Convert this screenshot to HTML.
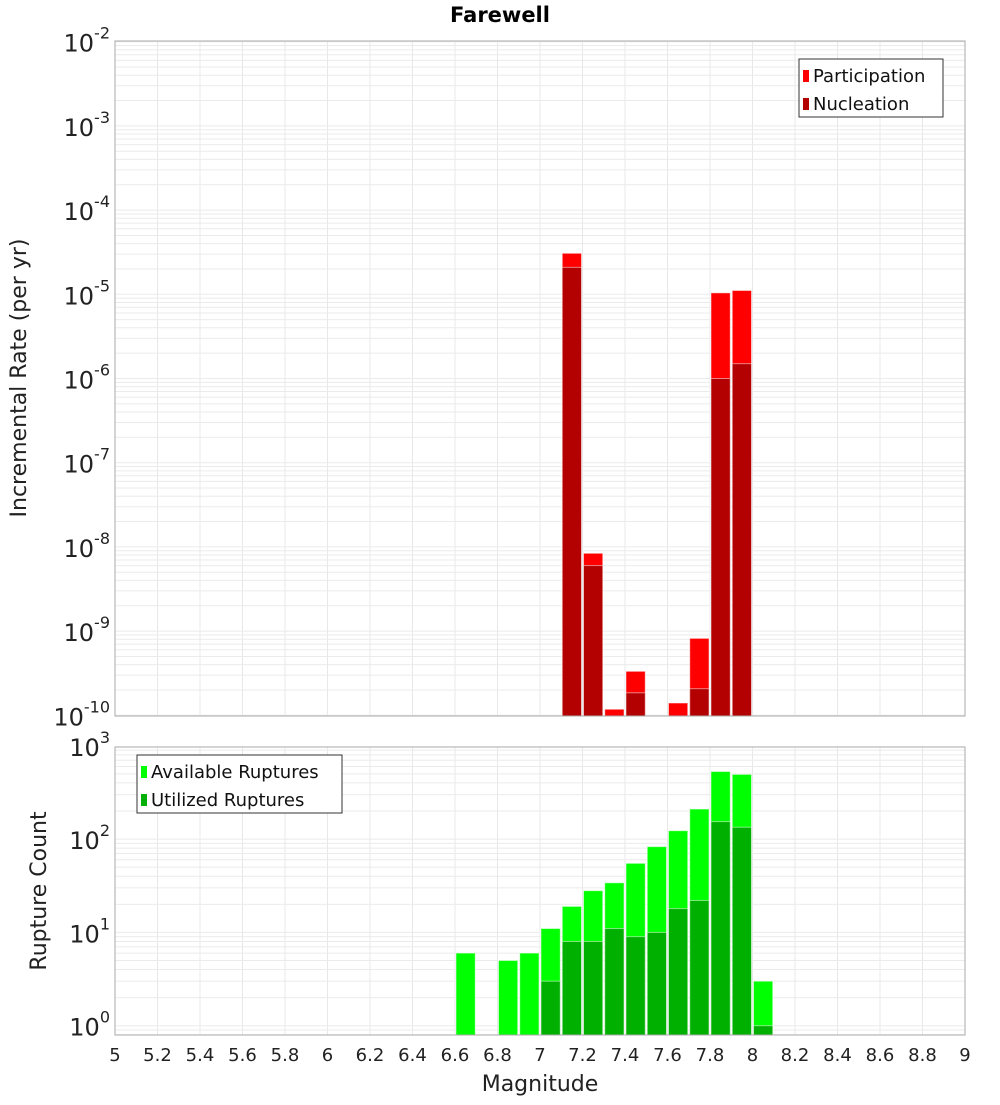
<!DOCTYPE html>
<html><head><meta charset="utf-8"><style>
body{margin:0;background:#fff;font-family:"Liberation Sans","DejaVu Sans",sans-serif}
svg text{font-family:"DejaVu Sans","Liberation Sans",sans-serif}
</style></head><body>
<svg id="c" width="1000" height="1100" xmlns="http://www.w3.org/2000/svg"></svg>
<script>
const bins=[5.05,5.15,5.25,5.35,5.45,5.55,5.65,5.75,5.85,5.95,6.05,6.15,6.25,6.35,6.45,6.55,6.65,6.75,6.85,6.95,7.05,7.15,7.25,7.35,7.45,7.55,7.65,7.75,7.85,7.95,8.05];
const participation=[null,null,null,null,null,null,null,null,null,null,null,null,null,null,null,null,null,null,null,null,null,3.07e-5,8.4e-9,1.18e-10,3.33e-10,null,1.4e-10,8.2e-10,1.04e-5,1.11e-5,null];
const nucleation=[null,null,null,null,null,null,null,null,null,null,null,null,null,null,null,null,null,null,null,null,null,2.09e-5,6.0e-9,null,1.85e-10,null,null,2.07e-10,1.0e-6,1.5e-6,null];
const available=[0,0,0,0,0,0,0,0,0,0,0,0,0,0,0,0,6,0,5,6,11,19,28,34,55,83,123,210,530,494,3];
const utilized=[0,0,0,0,0,0,0,0,0,0,0,0,0,0,0,0,0,0,0,0,3,8,8,11,9,10,18,22,154,134,1];
const xTicks=[5,5.2,5.4,5.6,5.8,6,6.2,6.4,6.6,6.8,7,7.2,7.4,7.6,7.8,8,8.2,8.4,8.6,8.8,9];
const topExp=[-10,-9,-8,-7,-6,-5,-4,-3,-2];
const botExp=[0,1,2,3];

const NS="http://www.w3.org/2000/svg",svg=document.getElementById('c');
function el(t,a,p){const e=document.createElementNS(NS,t);for(const k in a)e.setAttribute(k,a[k]);(p||svg).appendChild(e);return e;}
const X0=115,X1=965;
const x=v=>X0+(v-5)*(X1-X0)/4;
const T={top:41,bot:716,y:l=>715.3-(l+10)*84.2};
const B={top:747,bot:1035,y:l=>1025.7-l*93.3};

function panel(P,exps,name){
  const g=el('g',{});
  
  el('rect',{x:X0,y:P.top,width:X1-X0,height:P.bot-P.top,fill:'#fff'},g);
  xTicks.forEach(t=>el('line',{x1:x(t),x2:x(t),y1:P.top,y2:P.bot,stroke:'#e8e8e8'},g));
  for(let e=exps[0]-1;e<=exps[exps.length-1];e++)for(let m=1;m<10;m++){
    const yy=P.y(e+Math.log10(m));if(yy<P.top||yy>P.bot)continue;
    el('line',{x1:X0,x2:X1,y1:yy,y2:yy,stroke:'#ebebeb'},g);}
  return g;
}
function frame(P,name){const r=el('rect',{x:X0,y:P.top,width:X1-X0,height:P.bot-P.top,fill:'none',stroke:'#aaa'});}
function bars(P,vals,color,name){
  const g=el('g',{});
  vals.forEach((v,i)=>{if(!v)return;const yy=Math.max(P.top,P.y(Math.log10(v)));
    const r=el('rect',{x:x(bins[i]-0.05)+1,y:yy,width:x(5.1)-x(5)-2,height:P.bot-yy,fill:color,stroke:'#fff','stroke-opacity':0.5,'stroke-width':1},g);
    });
}
function yLabels(P,exps,name){exps.forEach(e=>{const t=el('text',{x:110,y:P.y(e)+10,'text-anchor':'end','font-size':24,fill:'#222'});
  
  t.textContent='10';const s=el('tspan',{dy:-13,'font-size':16},t);s.textContent=String(e);});}

panel(T,topExp,'top');
bars(T,participation,'#ff0000','participation');
bars(T,nucleation,'#b30000','nucleation');
frame(T,'top');
panel(B,botExp,'bottom');
bars(B,available,'#00ff00','available');
bars(B,utilized,'#00b000','utilized');
frame(B,'bottom');
yLabels(T,topExp,'top');yLabels(B,botExp,'bottom');

xTicks.forEach(t=>{const l=el('text',{x:x(t),y:1061,'text-anchor':'middle','font-size':18,fill:'#222'});
  l.textContent=String(t);});

function txt(s,a,name){const t=el('text',a);t.textContent=s;return t;}
txt('Farewell',{x:500,y:22,'text-anchor':'middle','font-size':21,'font-weight':'bold',fill:'#000'},'chart-title');
txt('Magnitude',{x:540,y:1091,'text-anchor':'middle','font-size':22,fill:'#222'},'x-axis-title');
txt('Incremental Rate (per yr)',{x:0,y:0,transform:'translate(26,378) rotate(-90)','text-anchor':'middle','font-size':22,fill:'#222'},'top-y-axis-title');
txt('Rupture Count',{x:0,y:0,transform:'translate(46,891) rotate(-90)','text-anchor':'middle','font-size':22,fill:'#222'},'bottom-y-axis-title');

function legend(bx,by,w,items,name){const g=el('g',{});
  el('rect',{x:bx,y:by,width:w,height:58,fill:'#fff',stroke:'#333'},g);
  items.forEach((it,i)=>{el('rect',{x:bx+4,y:by+11+i*28,width:6,height:12,fill:it[1]},g);
    const t=el('text',{x:bx+14,y:by+23+i*28,'font-size':18,fill:'#111'},g);t.textContent=it[0];});}
legend(799,59,144,[['Participation','#ff0000'],['Nucleation','#b30000']],'top-legend');
legend(137,755,205,[['Available Ruptures','#00ff00'],['Utilized Ruptures','#00b000']],'bottom-legend');
</script>
</body></html>
